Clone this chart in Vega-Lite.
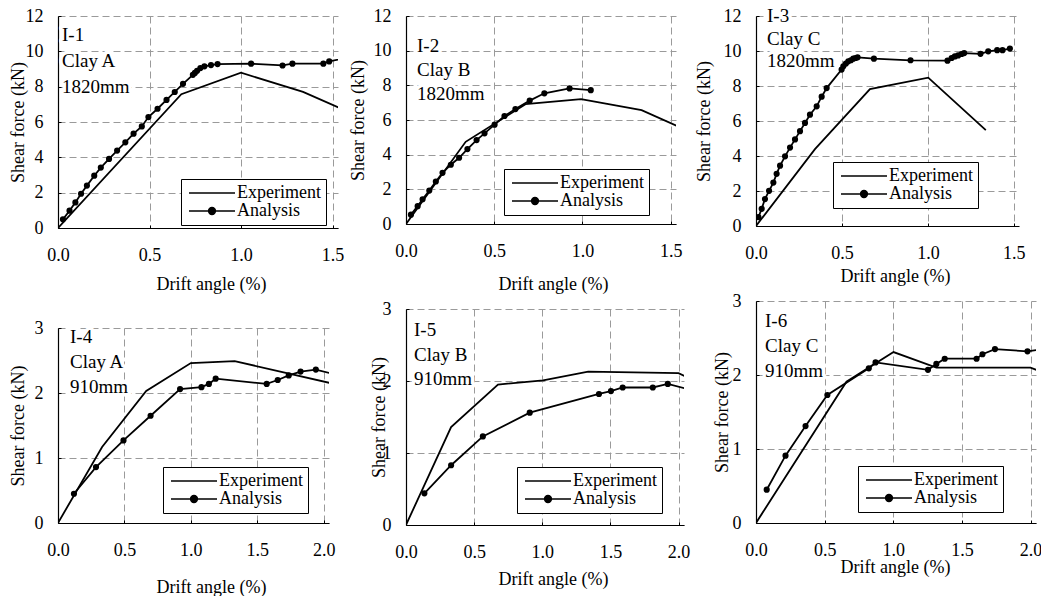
{
"$schema":"https://vega.github.io/schema/vega-lite/v6.json",
"background":"white",
"padding":{"left":9,"top":7,"right":0,"bottom":0},
"datasets":{
"curves":[
{"panel":"I-1","series":"Experiment","drift":0,"shear":0},{"panel":"I-1","series":"Experiment","drift":0.674,"shear":7.57},{"panel":"I-1","series":"Experiment","drift":1.0,"shear":8.79},{"panel":"I-1","series":"Experiment","drift":1.339,"shear":7.70},{"panel":"I-1","series":"Experiment","drift":1.6,"shear":6.52},
{"panel":"I-1","series":"Analysis","drift":0.027,"shear":0.49},{"panel":"I-1","series":"Analysis","drift":0.063,"shear":0.98},{"panel":"I-1","series":"Analysis","drift":0.095,"shear":1.45},{"panel":"I-1","series":"Analysis","drift":0.126,"shear":1.94},{"panel":"I-1","series":"Analysis","drift":0.158,"shear":2.40},{"panel":"I-1","series":"Analysis","drift":0.198,"shear":2.96},{"panel":"I-1","series":"Analysis","drift":0.234,"shear":3.42},{"panel":"I-1","series":"Analysis","drift":0.279,"shear":3.91},{"panel":"I-1","series":"Analysis","drift":0.323,"shear":4.38},{"panel":"I-1","series":"Analysis","drift":0.368,"shear":4.85},{"panel":"I-1","series":"Analysis","drift":0.413,"shear":5.34},{"panel":"I-1","series":"Analysis","drift":0.458,"shear":5.75},{"panel":"I-1","series":"Analysis","drift":0.494,"shear":6.28},{"panel":"I-1","series":"Analysis","drift":0.544,"shear":6.75},{"panel":"I-1","series":"Analysis","drift":0.593,"shear":7.25},{"panel":"I-1","series":"Analysis","drift":0.638,"shear":7.70},{"panel":"I-1","series":"Analysis","drift":0.683,"shear":8.16},{"panel":"I-1","series":"Analysis","drift":0.737,"shear":8.67},{"panel":"I-1","series":"Analysis","drift":0.748,"shear":8.78},{"panel":"I-1","series":"Analysis","drift":0.760,"shear":8.90},{"panel":"I-1","series":"Analysis","drift":0.778,"shear":9.05},{"panel":"I-1","series":"Analysis","drift":0.800,"shear":9.15},{"panel":"I-1","series":"Analysis","drift":0.836,"shear":9.22},{"panel":"I-1","series":"Analysis","drift":0.872,"shear":9.28},{"panel":"I-1","series":"Analysis","drift":1.055,"shear":9.30},{"panel":"I-1","series":"Analysis","drift":1.227,"shear":9.20},{"panel":"I-1","series":"Analysis","drift":1.281,"shear":9.30},{"panel":"I-1","series":"Analysis","drift":1.450,"shear":9.30},{"panel":"I-1","series":"Analysis","drift":1.482,"shear":9.43},{"panel":"I-1","series":"Analysis","drift":1.6,"shear":9.68},
{"panel":"I-2","series":"Experiment","drift":0,"shear":0},{"panel":"I-2","series":"Experiment","drift":0.338,"shear":4.74},{"panel":"I-2","series":"Experiment","drift":0.677,"shear":6.91},{"panel":"I-2","series":"Experiment","drift":0.992,"shear":7.20},{"panel":"I-2","series":"Experiment","drift":1.335,"shear":6.57},{"panel":"I-2","series":"Experiment","drift":1.6,"shear":5.36},
{"panel":"I-2","series":"Analysis","drift":0.028,"shear":0.54},{"panel":"I-2","series":"Analysis","drift":0.066,"shear":1.03},{"panel":"I-2","series":"Analysis","drift":0.094,"shear":1.43},{"panel":"I-2","series":"Analysis","drift":0.132,"shear":1.93},{"panel":"I-2","series":"Analysis","drift":0.169,"shear":2.45},{"panel":"I-2","series":"Analysis","drift":0.207,"shear":2.95},{"panel":"I-2","series":"Analysis","drift":0.254,"shear":3.42},{"panel":"I-2","series":"Analysis","drift":0.301,"shear":3.82},{"panel":"I-2","series":"Analysis","drift":0.348,"shear":4.32},{"panel":"I-2","series":"Analysis","drift":0.400,"shear":4.84},{"panel":"I-2","series":"Analysis","drift":0.445,"shear":5.23},{"panel":"I-2","series":"Analysis","drift":0.502,"shear":5.73},{"panel":"I-2","series":"Analysis","drift":0.558,"shear":6.23},{"panel":"I-2","series":"Analysis","drift":0.620,"shear":6.63},{"panel":"I-2","series":"Analysis","drift":0.701,"shear":7.12},{"panel":"I-2","series":"Analysis","drift":0.784,"shear":7.54},{"panel":"I-2","series":"Analysis","drift":0.927,"shear":7.82},{"panel":"I-2","series":"Analysis","drift":1.047,"shear":7.72},
{"panel":"I-3","series":"Experiment","drift":0,"shear":0},{"panel":"I-3","series":"Experiment","drift":0.343,"shear":4.39},{"panel":"I-3","series":"Experiment","drift":0.663,"shear":7.82},{"panel":"I-3","series":"Experiment","drift":1.002,"shear":8.48},{"panel":"I-3","series":"Experiment","drift":1.337,"shear":5.48},
{"panel":"I-3","series":"Analysis","drift":0.014,"shear":0.51},{"panel":"I-3","series":"Analysis","drift":0.033,"shear":0.98},{"panel":"I-3","series":"Analysis","drift":0.052,"shear":1.54},{"panel":"I-3","series":"Analysis","drift":0.076,"shear":2.01},{"panel":"I-3","series":"Analysis","drift":0.101,"shear":2.48},{"panel":"I-3","series":"Analysis","drift":0.120,"shear":2.98},{"panel":"I-3","series":"Analysis","drift":0.140,"shear":3.45},{"panel":"I-3","series":"Analysis","drift":0.169,"shear":3.98},{"panel":"I-3","series":"Analysis","drift":0.198,"shear":4.48},{"panel":"I-3","series":"Analysis","drift":0.227,"shear":4.95},{"panel":"I-3","series":"Analysis","drift":0.256,"shear":5.42},{"panel":"I-3","series":"Analysis","drift":0.285,"shear":5.89},{"panel":"I-3","series":"Analysis","drift":0.314,"shear":6.36},{"panel":"I-3","series":"Analysis","drift":0.353,"shear":6.84},{"panel":"I-3","series":"Analysis","drift":0.382,"shear":7.39},{"panel":"I-3","series":"Analysis","drift":0.411,"shear":7.88},{"panel":"I-3","series":"Analysis","drift":0.498,"shear":8.94},{"panel":"I-3","series":"Analysis","drift":0.508,"shear":9.13},{"panel":"I-3","series":"Analysis","drift":0.523,"shear":9.28},{"panel":"I-3","series":"Analysis","drift":0.537,"shear":9.41},{"panel":"I-3","series":"Analysis","drift":0.552,"shear":9.47},{"panel":"I-3","series":"Analysis","drift":0.566,"shear":9.56},{"panel":"I-3","series":"Analysis","drift":0.579,"shear":9.60},{"panel":"I-3","series":"Analysis","drift":0.591,"shear":9.64},{"panel":"I-3","series":"Analysis","drift":0.686,"shear":9.56},{"panel":"I-3","series":"Analysis","drift":0.899,"shear":9.47},{"panel":"I-3","series":"Analysis","drift":1.114,"shear":9.45},{"panel":"I-3","series":"Analysis","drift":1.138,"shear":9.60},{"panel":"I-3","series":"Analysis","drift":1.157,"shear":9.69},{"panel":"I-3","series":"Analysis","drift":1.176,"shear":9.75},{"panel":"I-3","series":"Analysis","drift":1.196,"shear":9.83},{"panel":"I-3","series":"Analysis","drift":1.211,"shear":9.88},{"panel":"I-3","series":"Analysis","drift":1.306,"shear":9.84},{"panel":"I-3","series":"Analysis","drift":1.351,"shear":9.98},{"panel":"I-3","series":"Analysis","drift":1.403,"shear":10.05},{"panel":"I-3","series":"Analysis","drift":1.434,"shear":10.05},{"panel":"I-3","series":"Analysis","drift":1.477,"shear":10.14},
{"panel":"I-4","series":"Experiment","drift":0,"shear":0},{"panel":"I-4","series":"Experiment","drift":0.332,"shear":1.17},{"panel":"I-4","series":"Experiment","drift":0.664,"shear":2.03},{"panel":"I-4","series":"Experiment","drift":1.0,"shear":2.46},{"panel":"I-4","series":"Experiment","drift":1.33,"shear":2.49},{"panel":"I-4","series":"Experiment","drift":2.1,"shear":2.13},
{"panel":"I-4","series":"Analysis","drift":0.120,"shear":0.45},{"panel":"I-4","series":"Analysis","drift":0.286,"shear":0.86},{"panel":"I-4","series":"Analysis","drift":0.493,"shear":1.27},{"panel":"I-4","series":"Analysis","drift":0.697,"shear":1.65},{"panel":"I-4","series":"Analysis","drift":0.919,"shear":2.06},{"panel":"I-4","series":"Analysis","drift":1.080,"shear":2.09},{"panel":"I-4","series":"Analysis","drift":1.136,"shear":2.14},{"panel":"I-4","series":"Analysis","drift":1.187,"shear":2.22},{"panel":"I-4","series":"Analysis","drift":1.571,"shear":2.14},{"panel":"I-4","series":"Analysis","drift":1.654,"shear":2.20},{"panel":"I-4","series":"Analysis","drift":1.737,"shear":2.27},{"panel":"I-4","series":"Analysis","drift":1.826,"shear":2.33},{"panel":"I-4","series":"Analysis","drift":1.941,"shear":2.36},{"panel":"I-4","series":"Analysis","drift":2.1,"shear":2.28},
{"panel":"I-5","series":"Experiment","drift":0,"shear":0},{"panel":"I-5","series":"Experiment","drift":0.331,"shear":1.36},{"panel":"I-5","series":"Experiment","drift":0.675,"shear":1.95},{"panel":"I-5","series":"Experiment","drift":1.006,"shear":2.01},{"panel":"I-5","series":"Experiment","drift":1.337,"shear":2.13},{"panel":"I-5","series":"Experiment","drift":2.0,"shear":2.11},{"panel":"I-5","series":"Experiment","drift":2.1,"shear":2.02},
{"panel":"I-5","series":"Analysis","drift":0.135,"shear":0.44},{"panel":"I-5","series":"Analysis","drift":0.331,"shear":0.83},{"panel":"I-5","series":"Analysis","drift":0.564,"shear":1.23},{"panel":"I-5","series":"Analysis","drift":0.908,"shear":1.56},{"panel":"I-5","series":"Analysis","drift":1.416,"shear":1.82},{"panel":"I-5","series":"Analysis","drift":1.504,"shear":1.86},{"panel":"I-5","series":"Analysis","drift":1.590,"shear":1.91},{"panel":"I-5","series":"Analysis","drift":1.811,"shear":1.91},{"panel":"I-5","series":"Analysis","drift":1.921,"shear":1.96},{"panel":"I-5","series":"Analysis","drift":2.1,"shear":1.87},
{"panel":"I-6","series":"Experiment","drift":0,"shear":0},{"panel":"I-6","series":"Experiment","drift":0.659,"shear":1.91},{"panel":"I-6","series":"Experiment","drift":1.002,"shear":2.31},{"panel":"I-6","series":"Experiment","drift":1.314,"shear":2.10},{"panel":"I-6","series":"Experiment","drift":2.0,"shear":2.10},{"panel":"I-6","series":"Experiment","drift":2.1,"shear":2.03},
{"panel":"I-6","series":"Analysis","drift":0.078,"shear":0.45},{"panel":"I-6","series":"Analysis","drift":0.215,"shear":0.91},{"panel":"I-6","series":"Analysis","drift":0.361,"shear":1.31},{"panel":"I-6","series":"Analysis","drift":0.520,"shear":1.73},{"panel":"I-6","series":"Analysis","drift":0.822,"shear":2.09},{"panel":"I-6","series":"Analysis","drift":0.871,"shear":2.17},{"panel":"I-6","series":"Analysis","drift":1.253,"shear":2.07},{"panel":"I-6","series":"Analysis","drift":1.314,"shear":2.15},{"panel":"I-6","series":"Analysis","drift":1.375,"shear":2.22},{"panel":"I-6","series":"Analysis","drift":1.607,"shear":2.22},{"panel":"I-6","series":"Analysis","drift":1.650,"shear":2.28},{"panel":"I-6","series":"Analysis","drift":1.741,"shear":2.35},{"panel":"I-6","series":"Analysis","drift":1.978,"shear":2.32},{"panel":"I-6","series":"Analysis","drift":2.1,"shear":2.35}
],
"notes":[
{"panel":"I-1","lines":["I-1","Clay A","1820mm"]},
{"panel":"I-2","lines":["I-2","Clay B","1820mm"]},
{"panel":"I-3","lines":["I-3","Clay C","1820mm"]},
{"panel":"I-4","lines":["I-4","Clay A","910mm"]},
{"panel":"I-5","lines":["I-5","Clay B","910mm"]},
{"panel":"I-6","lines":["I-6","Clay C","910mm"]}
]
},
"config":{
"font":"Liberation Serif",
"view":{"stroke":null},
"axis":{"labelFont":"Liberation Serif","labelFontSize":18,"labelColor":"black","titleFont":"Liberation Serif","titleFontSize":18,"titleFontWeight":"normal","titleColor":"black","domainColor":"black","domainWidth":1.2,"tickColor":"black","tickSize":-3,"tickWidth":1,"tickCount":20,"grid":true,"gridColor":"#9a9a9a","gridDash":[7,4],"gridWidth":1,"labelFlush":false,"labelOverlap":false,"titleBaseline":"middle"},
"axisX":{"labelPadding":21},
"axisY":{"labelPadding":18,"format":"d"},
"legend":{"fillColor":"white","strokeColor":"black","padding":5,"labelFont":"Liberation Serif","labelFontSize":18,"labelColor":"black","symbolSize":64,"symbolStrokeWidth":1.5,"symbolOpacity":1,"rowPadding":-8,"symbolOffset":17,"labelOffset":16,"labelLimit":300}
},
"spacing":5,
"resolve":{"scale":{"shape":"independent","x":"independent","y":"independent"},"legend":{"shape":"independent"}},
"hconcat":[
{"bounds":"flush","spacing":100,
"resolve":{"scale":{"shape":"independent","x":"independent","y":"independent"},"legend":{"shape":"independent"}},
"vconcat":[
{"width":280,"height":212,
"layer":[
{"data":{"name":"curves"},"transform":[{"filter":"datum.panel === 'I-1'"}],"mark":{"type":"line","clip":true,"strokeWidth":1.8,"color":"black"},
"encoding":{"x":{"field":"drift","type":"quantitative","scale":{"domain":[0,1.53],"nice":false,"zero":false},"axis":{"values":[0,0.5,1,1.5],"format":".1f","title":"Drift angle (%)","titleX":153,"titleY":56}},
"y":{"field":"shear","type":"quantitative","scale":{"domain":[0,12],"nice":false},"axis":{"values":[0,2,4,6,8,10,12],"title":"Shear force (kN)","titleX":-40,"titleY":106}},
"detail":{"field":"series","type":"nominal"}}},
{"data":{"name":"curves"},"transform":[{"filter":"datum.panel === 'I-1' && datum.series === 'Analysis'"}],"mark":{"type":"point","filled":true,"clip":true,"size":38,"color":"black","opacity":1},
"encoding":{"x":{"field":"drift","type":"quantitative"},"y":{"field":"shear","type":"quantitative"}}},
{"data":{"name":"curves"},"transform":[{"filter":"datum.panel === 'I-1'"}],"mark":{"type":"point","filled":true,"clip":true,"size":10,"color":"black","stroke":"black","opacity":0},
"encoding":{"x":{"field":"drift","type":"quantitative"},"y":{"field":"shear","type":"quantitative"},
"shape":{"field":"series","type":"nominal","scale":{"domain":["Experiment","Analysis"],"range":["M-5.75,0H5.75","M-5.75,0H5.75M0.85,0A0.85,0.85,0,1,1,-0.85,0A0.85,0.85,0,1,1,0.85,0Z"]},"legend":{"title":null,"orient":"none","legendX":123,"legendY":163}}}},
{"data":{"name":"notes"},"transform":[{"filter":"datum.panel === 'I-1'"}],"mark":{"type":"text","align":"left","baseline":"alphabetic","dx":4,"dy":25,"lineHeight":25.8,"font":"Liberation Serif","fontSize":19,"fill":"white","stroke":"white","strokeWidth":7,"strokeJoin":"round"},
"encoding":{"x":{"datum":0,"type":"quantitative"},"y":{"datum":12,"type":"quantitative"},"text":{"field":"lines"}}},
{"data":{"name":"notes"},"transform":[{"filter":"datum.panel === 'I-1'"}],"mark":{"type":"text","align":"left","baseline":"alphabetic","dx":4,"dy":25,"lineHeight":25.8,"font":"Liberation Serif","fontSize":19,"color":"black"},
"encoding":{"x":{"datum":0,"type":"quantitative"},"y":{"datum":12,"type":"quantitative"},"text":{"field":"lines"}}}
]},
{"width":271,"height":195,
"layer":[
{"data":{"name":"curves"},"transform":[{"filter":"datum.panel === 'I-4'"}],"mark":{"type":"line","clip":true,"strokeWidth":1.8,"color":"black"},
"encoding":{"x":{"field":"drift","type":"quantitative","scale":{"domain":[0,2.04],"nice":false,"zero":false},"axis":{"values":[0,0.5,1,1.5,2],"format":".1f","title":"Drift angle (%)","titleX":153,"titleY":64}},
"y":{"field":"shear","type":"quantitative","scale":{"domain":[0,3],"nice":false},"axis":{"values":[0,1,2,3],"title":"Shear force (kN)","titleX":-40,"titleY":97.5}},
"detail":{"field":"series","type":"nominal"}}},
{"data":{"name":"curves"},"transform":[{"filter":"datum.panel === 'I-4' && datum.series === 'Analysis'"}],"mark":{"type":"point","filled":true,"clip":true,"size":38,"color":"black","opacity":1},
"encoding":{"x":{"field":"drift","type":"quantitative"},"y":{"field":"shear","type":"quantitative"}}},
{"data":{"name":"curves"},"transform":[{"filter":"datum.panel === 'I-4'"}],"mark":{"type":"point","filled":true,"clip":true,"size":10,"color":"black","stroke":"black","opacity":0},
"encoding":{"x":{"field":"drift","type":"quantitative"},"y":{"field":"shear","type":"quantitative"},
"shape":{"field":"series","type":"nominal","scale":{"domain":["Experiment","Analysis"],"range":["M-5.75,0H5.75","M-5.75,0H5.75M0.85,0A0.85,0.85,0,1,1,-0.85,0A0.85,0.85,0,1,1,0.85,0Z"]},"legend":{"title":null,"orient":"none","legendX":105,"legendY":139}}}},
{"data":{"name":"notes"},"transform":[{"filter":"datum.panel === 'I-4'"}],"mark":{"type":"text","align":"left","baseline":"alphabetic","dx":12,"dy":15,"lineHeight":25,"font":"Liberation Serif","fontSize":19,"fill":"white","stroke":"white","strokeWidth":7,"strokeJoin":"round"},
"encoding":{"x":{"datum":0,"type":"quantitative"},"y":{"datum":3,"type":"quantitative"},"text":{"field":"lines"}}},
{"data":{"name":"notes"},"transform":[{"filter":"datum.panel === 'I-4'"}],"mark":{"type":"text","align":"left","baseline":"alphabetic","dx":12,"dy":15,"lineHeight":25,"font":"Liberation Serif","fontSize":19,"color":"black"},
"encoding":{"x":{"datum":0,"type":"quantitative"},"y":{"datum":3,"type":"quantitative"},"text":{"field":"lines"}}}
]}
]},
{"bounds":"flush","spacing":85,
"resolve":{"scale":{"shape":"independent","x":"independent","y":"independent"},"legend":{"shape":"independent"}},
"vconcat":[
{"width":270,"height":208,
"layer":[
{"data":{"name":"curves"},"transform":[{"filter":"datum.panel === 'I-2'"}],"mark":{"type":"line","clip":true,"strokeWidth":1.8,"color":"black"},
"encoding":{"x":{"field":"drift","type":"quantitative","scale":{"domain":[0,1.53],"nice":false,"zero":false},"axis":{"values":[0,0.5,1,1.5],"format":".1f","title":"Drift angle (%)","titleX":147,"titleY":60}},
"y":{"field":"shear","type":"quantitative","scale":{"domain":[0,12],"nice":false},"axis":{"values":[0,2,4,6,8,10,12],"title":"Shear force (kN)","titleX":-48,"titleY":104}},
"detail":{"field":"series","type":"nominal"}}},
{"data":{"name":"curves"},"transform":[{"filter":"datum.panel === 'I-2' && datum.series === 'Analysis'"}],"mark":{"type":"point","filled":true,"clip":true,"size":38,"color":"black","opacity":1},
"encoding":{"x":{"field":"drift","type":"quantitative"},"y":{"field":"shear","type":"quantitative"}}},
{"data":{"name":"curves"},"transform":[{"filter":"datum.panel === 'I-2'"}],"mark":{"type":"point","filled":true,"clip":true,"size":10,"color":"black","stroke":"black","opacity":0},
"encoding":{"x":{"field":"drift","type":"quantitative"},"y":{"field":"shear","type":"quantitative"},
"shape":{"field":"series","type":"nominal","scale":{"domain":["Experiment","Analysis"],"range":["M-5.75,0H5.75","M-5.75,0H5.75M0.85,0A0.85,0.85,0,1,1,-0.85,0A0.85,0.85,0,1,1,0.85,0Z"]},"legend":{"title":null,"orient":"none","legendX":98,"legendY":153}}}},
{"data":{"name":"notes"},"transform":[{"filter":"datum.panel === 'I-2'"}],"mark":{"type":"text","align":"left","baseline":"alphabetic","dx":11,"dy":36,"lineHeight":24,"font":"Liberation Serif","fontSize":19,"fill":"white","stroke":"white","strokeWidth":7,"strokeJoin":"round"},
"encoding":{"x":{"datum":0,"type":"quantitative"},"y":{"datum":12,"type":"quantitative"},"text":{"field":"lines"}}},
{"data":{"name":"notes"},"transform":[{"filter":"datum.panel === 'I-2'"}],"mark":{"type":"text","align":"left","baseline":"alphabetic","dx":11,"dy":36,"lineHeight":24,"font":"Liberation Serif","fontSize":19,"color":"black"},
"encoding":{"x":{"datum":0,"type":"quantitative"},"y":{"datum":12,"type":"quantitative"},"text":{"field":"lines"}}}
]},
{"width":278,"height":216,
"layer":[
{"data":{"name":"curves"},"transform":[{"filter":"datum.panel === 'I-5'"}],"mark":{"type":"line","clip":true,"strokeWidth":1.8,"color":"black"},
"encoding":{"x":{"field":"drift","type":"quantitative","scale":{"domain":[0,2.04],"nice":false,"zero":false},"axis":{"values":[0,0.5,1,1.5,2],"format":".1f","title":"Drift angle (%)","titleX":147,"titleY":54}},
"y":{"field":"shear","type":"quantitative","scale":{"domain":[0,3],"nice":false},"axis":{"values":[0,1,2,3],"title":"Shear force (kN)","titleX":-27,"titleY":108}},
"detail":{"field":"series","type":"nominal"}}},
{"data":{"name":"curves"},"transform":[{"filter":"datum.panel === 'I-5' && datum.series === 'Analysis'"}],"mark":{"type":"point","filled":true,"clip":true,"size":38,"color":"black","opacity":1},
"encoding":{"x":{"field":"drift","type":"quantitative"},"y":{"field":"shear","type":"quantitative"}}},
{"data":{"name":"curves"},"transform":[{"filter":"datum.panel === 'I-5'"}],"mark":{"type":"point","filled":true,"clip":true,"size":10,"color":"black","stroke":"black","opacity":0},
"encoding":{"x":{"field":"drift","type":"quantitative"},"y":{"field":"shear","type":"quantitative"},
"shape":{"field":"series","type":"nominal","scale":{"domain":["Experiment","Analysis"],"range":["M-5.75,0H5.75","M-5.75,0H5.75M0.85,0A0.85,0.85,0,1,1,-0.85,0A0.85,0.85,0,1,1,0.85,0Z"]},"legend":{"title":null,"orient":"none","legendX":111,"legendY":158}}}},
{"data":{"name":"notes"},"transform":[{"filter":"datum.panel === 'I-5'"}],"mark":{"type":"text","align":"left","baseline":"alphabetic","dx":8,"dy":27,"lineHeight":24.5,"font":"Liberation Serif","fontSize":19,"fill":"white","stroke":"white","strokeWidth":7,"strokeJoin":"round"},
"encoding":{"x":{"datum":0,"type":"quantitative"},"y":{"datum":3,"type":"quantitative"},"text":{"field":"lines"}}},
{"data":{"name":"notes"},"transform":[{"filter":"datum.panel === 'I-5'"}],"mark":{"type":"text","align":"left","baseline":"alphabetic","dx":8,"dy":27,"lineHeight":24.5,"font":"Liberation Serif","fontSize":19,"color":"black"},
"encoding":{"x":{"datum":0,"type":"quantitative"},"y":{"datum":3,"type":"quantitative"},"text":{"field":"lines"}}}
]}
]},
{"bounds":"flush","spacing":75,
"resolve":{"scale":{"shape":"independent","x":"independent","y":"independent"},"legend":{"shape":"independent"}},
"vconcat":[
{"width":263,"height":210,
"layer":[
{"data":{"name":"curves"},"transform":[{"filter":"datum.panel === 'I-3'"}],"mark":{"type":"line","clip":true,"strokeWidth":1.8,"color":"black"},
"encoding":{"x":{"field":"drift","type":"quantitative","scale":{"domain":[0,1.53],"nice":false,"zero":false},"axis":{"values":[0,0.5,1,1.5],"format":".1f","title":"Drift angle (%)","titleX":139,"titleY":50}},
"y":{"field":"shear","type":"quantitative","scale":{"domain":[0,12],"nice":false},"axis":{"values":[0,2,4,6,8,10,12],"title":"Shear force (kN)","titleX":-52,"titleY":105}},
"detail":{"field":"series","type":"nominal"}}},
{"data":{"name":"curves"},"transform":[{"filter":"datum.panel === 'I-3' && datum.series === 'Analysis'"}],"mark":{"type":"point","filled":true,"clip":true,"size":38,"color":"black","opacity":1},
"encoding":{"x":{"field":"drift","type":"quantitative"},"y":{"field":"shear","type":"quantitative"}}},
{"data":{"name":"curves"},"transform":[{"filter":"datum.panel === 'I-3'"}],"mark":{"type":"point","filled":true,"clip":true,"size":10,"color":"black","stroke":"black","opacity":0},
"encoding":{"x":{"field":"drift","type":"quantitative"},"y":{"field":"shear","type":"quantitative"},
"shape":{"field":"series","type":"nominal","scale":{"domain":["Experiment","Analysis"],"range":["M-5.75,0H5.75","M-5.75,0H5.75M0.85,0A0.85,0.85,0,1,1,-0.85,0A0.85,0.85,0,1,1,0.85,0Z"]},"legend":{"title":null,"orient":"none","legendX":77,"legendY":146}}}},
{"data":{"name":"notes"},"transform":[{"filter":"datum.panel === 'I-3'"}],"mark":{"type":"text","align":"left","baseline":"alphabetic","dx":11,"dy":6,"lineHeight":22.5,"font":"Liberation Serif","fontSize":19,"fill":"white","stroke":"white","strokeWidth":7,"strokeJoin":"round"},
"encoding":{"x":{"datum":0,"type":"quantitative"},"y":{"datum":12,"type":"quantitative"},"text":{"field":"lines"}}},
{"data":{"name":"notes"},"transform":[{"filter":"datum.panel === 'I-3'"}],"mark":{"type":"text","align":"left","baseline":"alphabetic","dx":11,"dy":6,"lineHeight":22.5,"font":"Liberation Serif","fontSize":19,"color":"black"},
"encoding":{"x":{"datum":0,"type":"quantitative"},"y":{"datum":12,"type":"quantitative"},"text":{"field":"lines"}}}
]},
{"width":280,"height":222,
"layer":[
{"data":{"name":"curves"},"transform":[{"filter":"datum.panel === 'I-6'"}],"mark":{"type":"line","clip":true,"strokeWidth":1.8,"color":"black"},
"encoding":{"x":{"field":"drift","type":"quantitative","scale":{"domain":[0,2.04],"nice":false,"zero":false},"axis":{"values":[0,0.5,1,1.5,2],"format":".1f","title":"Drift angle (%)","titleX":139,"titleY":44}},
"y":{"field":"shear","type":"quantitative","scale":{"domain":[0,3],"nice":false},"axis":{"values":[0,1,2,3],"title":"Shear force (kN)","titleX":-34,"titleY":111}},
"detail":{"field":"series","type":"nominal"}}},
{"data":{"name":"curves"},"transform":[{"filter":"datum.panel === 'I-6' && datum.series === 'Analysis'"}],"mark":{"type":"point","filled":true,"clip":true,"size":38,"color":"black","opacity":1},
"encoding":{"x":{"field":"drift","type":"quantitative"},"y":{"field":"shear","type":"quantitative"}}},
{"data":{"name":"curves"},"transform":[{"filter":"datum.panel === 'I-6'"}],"mark":{"type":"point","filled":true,"clip":true,"size":10,"color":"black","stroke":"black","opacity":0},
"encoding":{"x":{"field":"drift","type":"quantitative"},"y":{"field":"shear","type":"quantitative"},
"shape":{"field":"series","type":"nominal","scale":{"domain":["Experiment","Analysis"],"range":["M-5.75,0H5.75","M-5.75,0H5.75M0.85,0A0.85,0.85,0,1,1,-0.85,0A0.85,0.85,0,1,1,0.85,0Z"]},"legend":{"title":null,"orient":"none","legendX":102,"legendY":165}}}},
{"data":{"name":"notes"},"transform":[{"filter":"datum.panel === 'I-6'"}],"mark":{"type":"text","align":"left","baseline":"alphabetic","dx":9,"dy":26,"lineHeight":25,"font":"Liberation Serif","fontSize":19,"fill":"white","stroke":"white","strokeWidth":7,"strokeJoin":"round"},
"encoding":{"x":{"datum":0,"type":"quantitative"},"y":{"datum":3,"type":"quantitative"},"text":{"field":"lines"}}},
{"data":{"name":"notes"},"transform":[{"filter":"datum.panel === 'I-6'"}],"mark":{"type":"text","align":"left","baseline":"alphabetic","dx":9,"dy":26,"lineHeight":25,"font":"Liberation Serif","fontSize":19,"color":"black"},
"encoding":{"x":{"datum":0,"type":"quantitative"},"y":{"datum":3,"type":"quantitative"},"text":{"field":"lines"}}}
]}
]}
]
}
